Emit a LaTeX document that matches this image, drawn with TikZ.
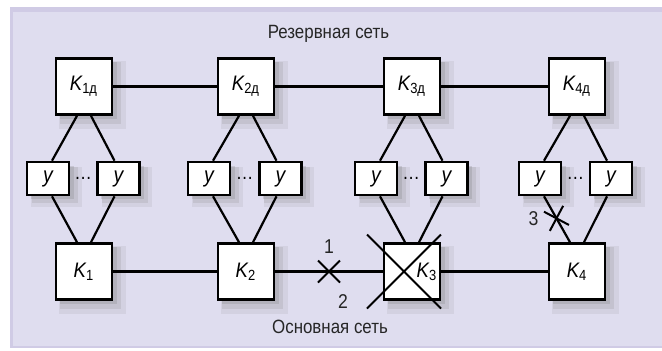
\documentclass[tikz,border=0pt]{standalone}
\usepackage{fontspec}
\setmainfont{Liberation Sans}[FakeStretch=0.88]
\usetikzlibrary{positioning,shapes.misc,shadows}

\definecolor{netfill}{RGB}{223,221,239}
\definecolor{netedge}{RGB}{208,203,229}

\tikzset{
  boxshadow/.style={
    drop shadow={opacity=0.12, shadow xshift=3.5pt, shadow yshift=-3.5pt, shadow scale=1.2},
    drop shadow={opacity=0.18, shadow xshift=3pt, shadow yshift=-3pt, shadow scale=1.1},
    drop shadow={opacity=0.25, shadow xshift=2pt, shadow yshift=-2pt, shadow scale=1.02}},
  kbox/.style={draw, line width=1.3pt, fill=white, minimum size=28pt, inner sep=0pt,
    font=\fontsize{10.5}{11}\selectfont, boxshadow},
  ybox/.style={draw, line width=1.3pt, fill=white, minimum width=21pt, minimum height=16.5pt,
    inner sep=0pt, font=\fontsize{11}{11}\selectfont, boxshadow},
  link/.style={line width=1.1pt},
  brk/.style={cross out, draw, line width=1pt, inner sep=0pt},
  netname/.style={font=\fontsize{9.6}{10}\selectfont, text=black!85},
  numtag/.style={font=\fontsize{10}{10}\selectfont, text=black!85},
}

\begin{document}
\begin{tikzpicture}[x=0.5pt, y=-0.5pt, on grid]
  \useasboundingbox (0,0) rectangle (662,350);
  \fill[netedge] (10,7) rectangle (662,348);
  \fill[netfill] (13,12) rectangle (662,346);

  % reserve network
  \node[kbox] (k1d) at (84,86.5) {{\itshape K}\textsubscript{1д}};
  \node[kbox, right=81pt of k1d] (k2d) {{\itshape K}\textsubscript{2д}};
  \node[kbox, right=83pt of k2d] (k3d) {{\itshape K}\textsubscript{3д}};
  \node[kbox, right=82.5pt of k3d] (k4d) {{\itshape K}\textsubscript{4д}};

  % main network
  \node[kbox, below=92.5pt of k1d] (k1) {{\itshape K}\textsubscript{1}};
  \node[kbox, below=92.5pt of k2d] (k2) {{\itshape K}\textsubscript{2}};
  \node[kbox, below=92.5pt of k3d] (k3) {\hspace*{15pt}{\itshape K}\textsubscript{3}};
  \node[kbox, below=92.5pt of k4d] (k4) {{\itshape K}\textsubscript{4}};

  % devices
  \node[ybox, below left=46pt and 18pt of k1d] (y1a) {\itshape у};
  \node[ybox, below right=46pt and 17.25pt of k1d] (y1b) {\itshape у};
  \node[ybox, below left=46pt and 18.5pt of k2d] (y2a) {\itshape у};
  \node[ybox, below right=46pt and 17.25pt of k2d] (y2b) {\itshape у};
  \node[ybox, below left=46pt and 18pt of k3d] (y3a) {\itshape у};
  \node[ybox, below right=46pt and 17.25pt of k3d] (y3b) {\itshape у};
  \node[ybox, below left=46pt and 18.5pt of k4d] (y4a) {\itshape у};
  \node[ybox, below right=46pt and 17pt of k4d] (y4b) {\itshape у};

  \path (y1a) -- node (d1) {\dots} (y1b);
  \path (y2a) -- node (d2) {\dots} (y2b);
  \path (y3a) -- node (d3) {\dots} (y3b);
  \path (y4a) -- node (d4) {\dots} (y4b);

  \node[netname] (rez) at (328.5,34) {Резервная сеть};
  \node[netname] (osn) at (330,327) {Основная сеть};

  % links
  \draw[link] (k1d) -- (k2d) (k2d) -- (k3d) (k3d) -- (k4d);
  \draw[link] (k1) -- (k2) (k3) -- (k4);
  \draw[link] (k2) -- node[brk, minimum size=10pt] (c1) {} (k3);
  \node[numtag, above=12.5pt of c1] (n1) {1};

  \draw[link] ([xshift=-3.5pt]k1d.south) -- ([xshift=2pt]y1a.north)
              ([xshift=3.5pt]k1d.south) -- ([xshift=-2pt]y1b.north)
              ([xshift=2pt]y1a.south) -- ([xshift=-3.5pt]k1.north)
              ([xshift=-2pt]y1b.south) -- ([xshift=3.5pt]k1.north);
  \draw[link] ([xshift=-3.5pt]k2d.south) -- ([xshift=2pt]y2a.north)
              ([xshift=3.5pt]k2d.south) -- ([xshift=-2pt]y2b.north)
              ([xshift=2pt]y2a.south) -- ([xshift=-3.5pt]k2.north)
              ([xshift=-2pt]y2b.south) -- ([xshift=3.5pt]k2.north);
  \draw[link] ([xshift=-3.5pt]k3d.south) -- ([xshift=2pt]y3a.north)
              ([xshift=3.5pt]k3d.south) -- ([xshift=-2pt]y3b.north)
              ([xshift=2pt]y3a.south) -- ([xshift=-3.5pt]k3.north)
              ([xshift=-2pt]y3b.south) -- ([xshift=3.5pt]k3.north);
  \draw[link] ([xshift=-3.5pt]k4d.south) -- ([xshift=2pt]y4a.north)
              ([xshift=3.5pt]k4d.south) -- ([xshift=-2pt]y4b.north)
              ([xshift=-2pt]y4b.south) -- ([xshift=3.5pt]k4.north);
  \draw[link] ([xshift=2pt]y4a.south) -- node[pos=0.48, brk, minimum size=9pt, rotate=17] (c3) {}
              ([xshift=-3.5pt]k4.north);
  \node[numtag, left=11.5pt of c3] (n3) {3};

  % failed node
  \node[brk, minimum size=36pt, xshift=-4pt] (c2) at (k3) {};
  \node[numtag, left=6pt of c2.south west, yshift=3.5pt] (n2) {2};
\end{tikzpicture}
\end{document}
